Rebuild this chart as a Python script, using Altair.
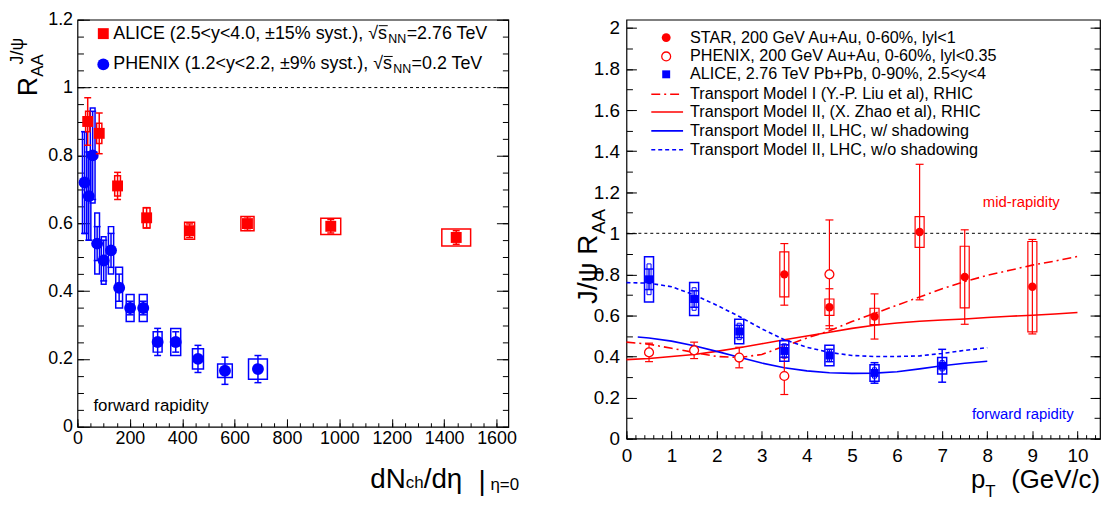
import altair as alt
import pandas as pd

FONT = "Liberation Sans"
RED = "#ff0000"
BLUE = "#0000ff"

# ---------------- left panel data (R_AA vs dNch/deta) ----------------
alice_dn = [39, 83, 153, 264, 428, 649, 967, 1446]
alice_dn_raa = [0.90, 0.865, 0.71, 0.616, 0.578, 0.599, 0.591, 0.558]
alice_dn_stat = [0.07, 0.06, 0.04, 0.03, 0.02, 0.02, 0.02, 0.02]
alice_dn_sys = [0.03, 0.03, 0.03, 0.03, 0.025, 0.021, 0.024, 0.025]
alice_dn_xerr = [8, 10, 11, 13, 19, 25, 38, 55]

phenix_dn = [27, 43, 58, 75, 100, 128, 159, 201, 251, 306, 375, 460, 563, 689]
phenix_dn_raa = [0.72, 0.68, 0.80, 0.54, 0.49, 0.52, 0.41, 0.35, 0.35, 0.25, 0.25, 0.20, 0.165, 0.17]
phenix_dn_stat = [0.15, 0.13, 0.13, 0.05, 0.06, 0.05, 0.04, 0.02, 0.02, 0.04, 0.03, 0.04, 0.04, 0.04]
phenix_dn_sys = [0.15, 0.13, 0.14, 0.09, 0.07, 0.07, 0.06, 0.04, 0.04, 0.03, 0.04, 0.03, 0.02, 0.03]
phenix_dn_xerr = [8, 8, 9, 9, 9, 10, 13, 15, 15, 17, 19, 21, 28, 36]

# ---------------- right panel data (R_AA vs pT) ----------------
star_pt = [3.5, 4.5, 5.5, 6.5, 7.5, 9.0]
star_raa = [0.80, 0.64, 0.595, 1.006, 0.787, 0.74]
star_stat = [0.15, 0.09, 0.11, 0.33, 0.23, 0.23]
star_sys = [0.11, 0.04, 0.04, 0.075, 0.15, 0.22]

phenix_pt = [0.5, 1.5, 2.5, 3.5, 4.5]
phenix_raa = [0.42, 0.43, 0.395, 0.305, 0.80]
phenix_stat = [0.045, 0.04, 0.05, 0.09, 0.265]

alice_pt = [0.5, 1.5, 2.5, 3.5, 4.5, 5.5, 7.0]
alice_raa = [0.776, 0.68, 0.522, 0.427, 0.405, 0.32, 0.355]
alice_stat = [0.05, 0.04, 0.03, 0.03, 0.03, 0.05, 0.08]
alice_sys = [0.11, 0.08, 0.06, 0.05, 0.05, 0.04, 0.04]
alice_sys_inner = [0.075, 0.055, 0.04, 0.035, 0.03, 0.025, 0.025]
pt_box_half = 0.1
pt_box_inner_half = 0.045

model1_pt = [0, 0.5, 1, 1.5, 2, 2.5, 3, 3.5, 4, 4.5, 5, 5.5, 6, 6.5, 7, 7.5, 8, 8.5, 9, 9.5, 10]
model1_raa = [0.47, 0.46, 0.44, 0.42, 0.40, 0.395, 0.41, 0.45, 0.49, 0.525, 0.57, 0.61, 0.65,
              0.69, 0.73, 0.765, 0.795, 0.82, 0.845, 0.865, 0.887]
model2_pt = [0, 0.5, 1, 1.5, 2, 2.5, 3, 3.5, 4, 4.5, 5, 5.5, 6, 6.5, 7, 7.5, 8, 8.5, 9, 9.5, 10]
model2_raa = [0.385, 0.39, 0.40, 0.41, 0.425, 0.443, 0.462, 0.482, 0.50, 0.518, 0.537, 0.552,
              0.563, 0.572, 0.578, 0.583, 0.59, 0.596, 0.601, 0.607, 0.614]
lhc_w_pt = [0.25, 0.5, 1, 1.5, 2, 2.5, 3, 3.5, 4, 4.5, 5, 5.5, 6, 6.5, 7, 7.5, 8]
lhc_w_raa = [0.495, 0.49, 0.475, 0.452, 0.425, 0.396, 0.368, 0.345, 0.33, 0.321, 0.318, 0.319,
             0.326, 0.34, 0.355, 0.367, 0.377]
lhc_wo_pt = [0, 0.5, 1, 1.5, 2, 2.5, 3, 3.5, 4, 4.5, 5, 5.5, 6, 6.5, 7, 7.5, 8]
lhc_wo_raa = [0.76, 0.757, 0.74, 0.70, 0.65, 0.595, 0.535, 0.482, 0.445, 0.42, 0.405, 0.40,
              0.40, 0.403, 0.415, 0.43, 0.443]

# tick values
lx_major = [i * 200 for i in range(9)]
lx_minor = [i * 50 for i in range(33)]
ly_major = [round(i * 0.2, 2) for i in range(7)]
ly_minor = [round(i * 0.05, 2) for i in range(25)]
rx_major = list(range(11))
rx_minor = [round(i * 0.2, 1) for i in range(53)]
ry_major = [round(i * 0.2, 1) for i in range(11)]
ry_minor = [round(i * 0.1, 1) for i in range(21)]

LX_MAX, LY_MAX = 1645, 1.2
RX_MAX, RY_MAX = 10.5, 2.04
LW, LH = 434, 410
RW, RH = 477, 422

# Arial-like glyph widths (em) for placing sub/superscripts
GW = {' ': .278, '.': .278, ',': .278, '(': .333, ')': .333, '<': .584, '=': .584, '±': .584,
      '%': .889, '/': .278, '-': .333, '√': .549, 'η': .556, 'ψ': .7, '|': .26,
      'A': .667, 'C': .722, 'E': .667, 'G': .778, 'H': .722, 'I': .278, 'J': .5, 'L': .556,
      'N': .722, 'P': .667, 'R': .722, 'T': .611, 'V': .667, 'X': .667,
      'c': .5, 'd': .556, 'e': .556, 'h': .556, 'p': .556, 's': .5, 't': .278, 'y': .5}


def tw(s, size):
    return sum(GW.get(c, 0.556) for c in s) * size


one = pd.DataFrame({"a": [0]})
dummy = pd.DataFrame({"x": [0.0], "y": [0.0]})
LABEL_EXPR = "format(datum.value, '~g')"


def mk_axis(orient, values, size, labels, fs=18, pad=4):
    return alt.Axis(orient=orient, values=values, tickSize=size, offset=-size, domain=False,
                    grid=False, labels=labels, ticks=True, title=None, tickColor="black",
                    tickWidth=1, labelFont=FONT, labelFontSize=fs, labelColor="black",
                    labelPadding=pad, labelOverlap=False, labelFlush=False,
                    labelExpr=LABEL_EXPR)


def axis_layer(xs, ys, xa, ya):
    return alt.Chart(dummy).mark_point(opacity=0).encode(
        x=alt.X("x:Q", scale=xs, axis=xa), y=alt.Y("y:Q", scale=ys, axis=ya))


def txt(s, x, y, size, color="black", align="left", baseline="middle", angle=0):
    return alt.Chart(one).mark_text(text=s, align=align, baseline=baseline, fontSize=size,
                                    font=FONT, color=color, angle=angle).encode(
        x=alt.value(x), y=alt.value(y))


def errdata(xv, yv, stat, sys, xerr):
    return pd.DataFrame({
        "x": xv, "y": yv,
        "lo": [a - b for a, b in zip(yv, stat)], "hi": [a + b for a, b in zip(yv, stat)],
        "slo": [a - b for a, b in zip(yv, sys)], "shi": [a + b for a, b in zip(yv, sys)],
        "xlo": [a - b for a, b in zip(xv, xerr)], "xhi": [a + b for a, b in zip(xv, xerr)],
    })


def series(df, xs, ys, color, shape, size, filled=True, box=True, cap=7, sw=1.5, inner=None):
    X = lambda f: alt.X(f, scale=xs, axis=None)
    Y = lambda f: alt.Y(f, scale=ys, axis=None)
    layers = []
    if box:
        layers.append(alt.Chart(df).mark_rect(fillOpacity=0, stroke=color, strokeWidth=sw).encode(
            x=X("xlo:Q"), x2="xhi:Q", y=Y("slo:Q"), y2="shi:Q"))
    if inner is not None:
        layers.append(alt.Chart(inner).mark_rect(fillOpacity=0, stroke=color, strokeWidth=1).encode(
            x=X("xlo:Q"), x2="xhi:Q", y=Y("slo:Q"), y2="shi:Q"))
    layers.append(alt.Chart(df).mark_rule(color=color, strokeWidth=sw).encode(
        x=X("x:Q"), y=Y("lo:Q"), y2="hi:Q"))
    for f in ("lo:Q", "hi:Q"):
        layers.append(alt.Chart(df).mark_tick(orient="horizontal", color=color, size=cap,
                                              thickness=sw, opacity=1).encode(x=X("x:Q"), y=Y(f)))
    if filled:
        layers.append(alt.Chart(df).mark_point(shape=shape, filled=True, size=size, color=color,
                                               opacity=1).encode(x=X("x:Q"), y=Y("y:Q")))
    else:
        layers.append(alt.Chart(df).mark_point(shape=shape, filled=False, size=size, color=color,
                                               fill="white", fillOpacity=1, strokeWidth=1.3,
                                               opacity=1).encode(x=X("x:Q"), y=Y("y:Q")))
    return layers


# ======================= LEFT PANEL =======================
xs_l = alt.Scale(domain=[0, LX_MAX], nice=False, zero=False)
ys_l = alt.Scale(domain=[0, LY_MAX], nice=False, zero=False)

left_axes = [
    axis_layer(xs_l, ys_l, mk_axis("bottom", lx_major, 8, True, 18, 3), mk_axis("left", ly_major, 12, True, 18, 5)),
    axis_layer(xs_l, ys_l, mk_axis("bottom", lx_minor, 4, False), mk_axis("left", ly_minor, 6, False)),
    axis_layer(xs_l, ys_l, None, mk_axis("right", ly_major, 12, False)),
    axis_layer(xs_l, ys_l, None, mk_axis("right", ly_minor, 6, False)),
]

unity_l = alt.Chart(pd.DataFrame({"y": [1.0]})).mark_rule(color="black", strokeDash=[3, 3], strokeWidth=1).encode(
    y=alt.Y("y:Q", scale=ys_l, axis=None))

df_phx_l = errdata(phenix_dn, phenix_dn_raa, phenix_dn_stat, phenix_dn_sys, phenix_dn_xerr)
df_ali_l = errdata(alice_dn, alice_dn_raa, alice_dn_stat, alice_dn_sys, alice_dn_xerr)

lp = 18
ns = 12.5
ax0 = 36
a1 = "ALICE (2.5<y<4.0, ±15% syst.), √s"
p1 = "PHENIX (1.2<y<2.2, ±9% syst.), √s"
ya, yp = 14, 45
left_legend = [
    alt.Chart(one).mark_point(shape="square", filled=True, size=121, color=RED, opacity=1).encode(
        x=alt.value(26), y=alt.value(ya)),
    alt.Chart(one).mark_point(shape="circle", filled=True, size=144, color=BLUE, opacity=1).encode(
        x=alt.value(26), y=alt.value(yp)),
    txt(a1, ax0, ya, lp),
    txt("NN", ax0 + tw(a1, lp) + 0.5, ya + 5, ns),
    txt("=2.76 TeV", ax0 + tw(a1, lp) + tw("NN", ns) + 1, ya, lp),
    txt(p1, ax0, yp, lp),
    txt("NN", ax0 + tw(p1, lp) + 0.5, yp + 5, ns),
    txt("=0.2 TeV", ax0 + tw(p1, lp) + tw("NN", ns) + 1, yp, lp),
    alt.Chart(one).mark_rule(color="black", strokeWidth=1).encode(
        x=alt.value(ax0 + tw(a1[:-1], lp)), x2=alt.value(ax0 + tw(a1, lp)), y=alt.value(ya - 8)),
    alt.Chart(one).mark_rule(color="black", strokeWidth=1).encode(
        x=alt.value(ax0 + tw(p1[:-1], lp)), x2=alt.value(ax0 + tw(p1, lp)), y=alt.value(yp - 8)),
]

left_titles = [
    txt("R", -49, 77, 27, angle=270),
    txt("AA", -40, 77 - tw("R", 27), 17, angle=270),
    txt("J/ψ", -60, 45, 18, angle=270),
    txt("forward rapidity", 16, LH - 21, 17),
    txt("dN", 295, LH + 62, 28, baseline="alphabetic"),
    txt("ch", 295 + tw("dN", 28), LH + 62, 17, baseline="alphabetic"),
    txt("/dη", 295 + tw("dN", 28) + tw("ch", 17), LH + 62, 28, baseline="alphabetic"),
    txt("|", 404, LH + 64, 28, baseline="alphabetic"),
    txt("η=0", 416, LH + 64, 17, baseline="alphabetic"),
]

left = alt.layer(
    *left_axes, unity_l,
    *series(df_phx_l, xs_l, ys_l, BLUE, "circle", 144),
    *series(df_ali_l, xs_l, ys_l, RED, "square", 121),
    *left_legend, *left_titles,
).resolve_axis(x="independent", y="independent").properties(width=LW, height=LH)

# ======================= RIGHT PANEL =======================
xs_r = alt.Scale(domain=[0, RX_MAX], nice=False, zero=False)
ys_r = alt.Scale(domain=[0, RY_MAX], nice=False, zero=False)

right_axes = [
    axis_layer(xs_r, ys_r, mk_axis("bottom", rx_major, 8, True, 19, 8), mk_axis("left", ry_major, 10, True, 19, 7)),
    axis_layer(xs_r, ys_r, mk_axis("bottom", rx_minor, 4, False), mk_axis("left", ry_minor, 6, False)),
    axis_layer(xs_r, ys_r, None, mk_axis("right", ry_major, 10, False)),
    axis_layer(xs_r, ys_r, None, mk_axis("right", ry_minor, 6, False)),
]

unity_r = alt.Chart(pd.DataFrame({"y": [1.0]})).mark_rule(color="black", strokeDash=[3, 3], strokeWidth=1).encode(
    y=alt.Y("y:Q", scale=ys_r, axis=None))


def model(xv, yv, color, dash=None):
    kw = dict(color=color, strokeWidth=1.6)
    if dash:
        kw["strokeDash"] = dash
    return alt.Chart(pd.DataFrame({"x": xv, "y": yv})).mark_line(**kw).encode(
        x=alt.X("x:Q", scale=xs_r, axis=None), y=alt.Y("y:Q", scale=ys_r, axis=None))


DASHDOT = [9, 4, 2, 4]
DOT = [4, 3]
models = [
    model(model1_pt, model1_raa, RED, DASHDOT),
    model(model2_pt, model2_raa, RED),
    model(lhc_w_pt, lhc_w_raa, BLUE),
    model(lhc_wo_pt, lhc_wo_raa, BLUE, DOT),
]

df_star = errdata(star_pt, star_raa, star_stat, star_sys, [pt_box_half] * len(star_pt))
df_phx_r = errdata(phenix_pt, phenix_raa, phenix_stat, phenix_stat, [0] * len(phenix_pt))
df_ali_r = errdata(alice_pt, alice_raa, alice_stat, alice_sys, [pt_box_half] * len(alice_pt))
df_ali_in = errdata(alice_pt, alice_raa, alice_stat, alice_sys_inner, [pt_box_inner_half] * len(alice_pt))

rl = 16.3
lx, tx = 40, 64
rows = [18, 37, 55, 75, 93, 112, 131]
right_legend = [
    alt.Chart(one).mark_point(shape="circle", filled=True, size=80, color=RED, opacity=1).encode(
        x=alt.value(lx), y=alt.value(rows[0])),
    alt.Chart(one).mark_point(shape="circle", filled=False, size=80, color=RED, strokeWidth=1.3, opacity=1).encode(
        x=alt.value(lx), y=alt.value(rows[1])),
    alt.Chart(one).mark_point(shape="square", filled=True, size=64, color=BLUE, opacity=1).encode(
        x=alt.value(lx), y=alt.value(rows[2])),
    alt.Chart(one).mark_rule(color=RED, strokeWidth=1.6, strokeDash=DASHDOT).encode(
        x=alt.value(25), x2=alt.value(57), y=alt.value(rows[3])),
    alt.Chart(one).mark_rule(color=RED, strokeWidth=1.6).encode(
        x=alt.value(25), x2=alt.value(57), y=alt.value(rows[4])),
    alt.Chart(one).mark_rule(color=BLUE, strokeWidth=1.6).encode(
        x=alt.value(25), x2=alt.value(57), y=alt.value(rows[5])),
    alt.Chart(one).mark_rule(color=BLUE, strokeWidth=1.6, strokeDash=DOT).encode(
        x=alt.value(25), x2=alt.value(57), y=alt.value(rows[6])),
    txt("STAR, 200 GeV Au+Au, 0-60%, lyl<1", tx, rows[0], rl),
    txt("PHENIX, 200 GeV Au+Au, 0-60%, lyl<0.35", tx, rows[1], rl),
    txt("ALICE, 2.76 TeV Pb+Pb, 0-90%, 2.5<y<4", tx, rows[2], rl),
    txt("Transport Model I (Y.-P. Liu et al), RHIC", tx, rows[3], rl),
    txt("Transport Model II, (X. Zhao et al), RHIC", tx, rows[4], rl),
    txt("Transport Model II, LHC, w/ shadowing", tx, rows[5], rl),
    txt("Transport Model II, LHC, w/o shadowing", tx, rows[6], rl),
]


def ry(v):
    return RH * (1 - v / RY_MAX)


right_titles = [
    txt("mid-rapidity", 359, ry(1.154), 15, color=RED),
    txt("forward rapidity", 348, RH - 25, 15, color=BLUE),
    txt("J/ψ R", -38, ry(0.656), 28, angle=270),
    txt("AA", -28, ry(0.656) - tw("J/ψ R", 28) - 1, 19, angle=270),
    txt("p", 347, RH + 50, 26, baseline="alphabetic"),
    txt("T", 347 + tw("p", 26), RH + 59, 17, baseline="alphabetic"),
    txt("(GeV/c)", 477, RH + 50, 26, align="right", baseline="alphabetic"),
]

right = alt.layer(
    *right_axes, unity_r, *models,
    *series(df_star, xs_r, ys_r, RED, "circle", 72, cap=8, sw=1.2),
    *series(df_phx_r, xs_r, ys_r, RED, "circle", 80, filled=False, box=False, cap=8, sw=1.2),
    *series(df_ali_r, xs_r, ys_r, BLUE, "square", 64, cap=8, sw=1.5, inner=df_ali_in),
    *right_legend, *right_titles,
).resolve_axis(x="independent", y="independent").properties(width=RW, height=RH)

chart = alt.hconcat(left, right, spacing=119, bounds="flush").properties(
    padding=0, background="white"
).configure_view(stroke="black", strokeWidth=1.2)

chart.save("out.html", embed_options={"renderer": "svg", "actions": False})
